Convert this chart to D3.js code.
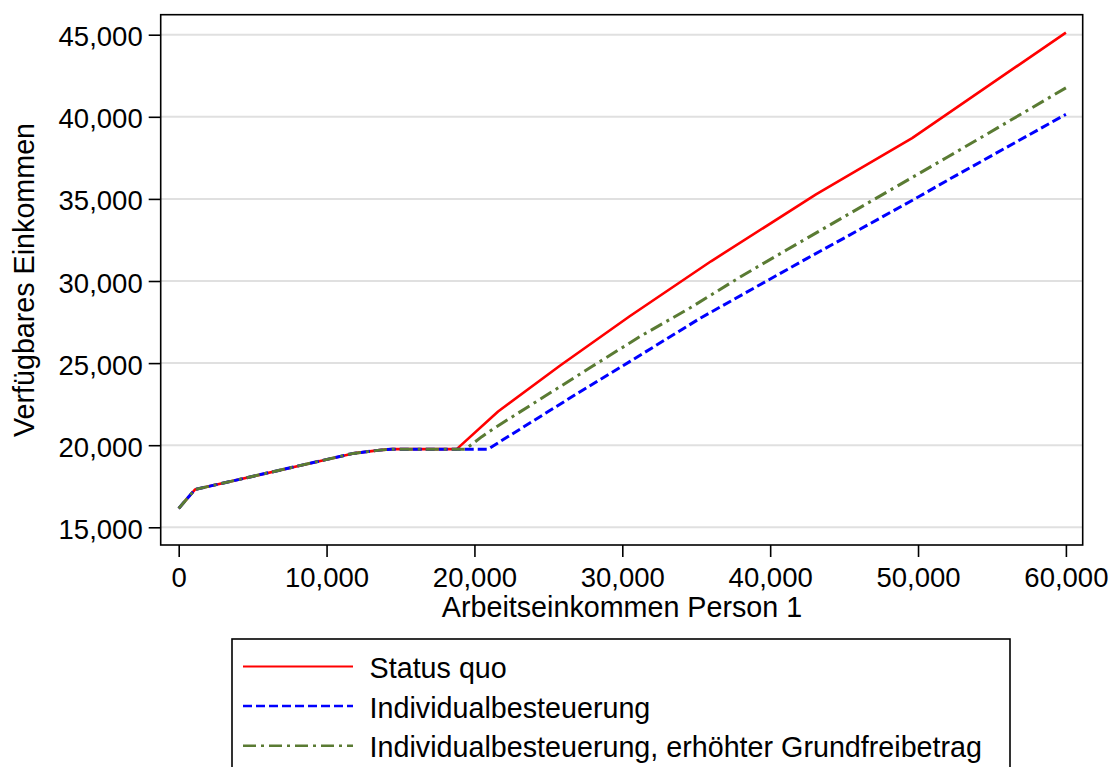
<!DOCTYPE html>
<html>
<head>
<meta charset="utf-8">
<script src="https://cdn.jsdelivr.net/npm/d3@7"></script>
<style>
  html, body { margin: 0; padding: 0; background: #fff; }
  svg { display: block; font-family: "Liberation Sans", Arial, sans-serif; }
</style>
</head>
<body>
<svg id="chart" width="1120" height="767"></svg>
<script>
// ---- Data ----
const xTicks = [0, 10000, 20000, 30000, 40000, 50000, 60000];
const yTicks = [15000, 20000, 25000, 30000, 35000, 40000, 45000];
const seriesNames = ["Status quo", "Individualbesteuerung", "Individualbesteuerung, erhöhter Grundfreibetrag"];
const xTitle = "Arbeitseinkommen Person 1";
const yTitle = "Verfügbares Einkommen";

// [Arbeitseinkommen, verfügbares Einkommen]
const statusQuo = [
  [0, 16150], [1100, 17300], [11800, 19500], [13600, 19700], [14400, 19760],
  [18800, 19760], [21600, 22050], [25800, 24850], [30500, 27850], [36000, 31200],
  [43100, 35270], [49600, 38700], [60000, 45130]
];
const individual = [
  [0, 16150], [1100, 17300], [11800, 19500], [13600, 19700], [14400, 19760],
  [20940, 19760], [21700, 20200], [26900, 23120], [30500, 25090], [35300, 27750],
  [42500, 31380], [45000, 32615], [50100, 35160], [52200, 36240], [60000, 40150]
];
const individualGfb = [
  [0, 16150], [1100, 17300], [11800, 19500], [13600, 19700], [14400, 19760],
  [19400, 19760], [20500, 20520], [21500, 21130], [28000, 24820], [31200, 26620],
  [34600, 28370], [38200, 30370], [41100, 31885], [46800, 34850], [52000, 37550],
  [60000, 41760]
];

const seriesData = [statusQuo, individual, individualGfb];
const colors = ["#ff0000", "#0000ff", "#5a7b33"];
const dashes = [null, "9,4", "13,5,3,5"];
const widths = [2.6, 3, 3];

// ---- Layout ----
const svg = d3.select("#chart");
const frame = { left: 160.7, right: 1082.7, top: 14.7, bottom: 545 };
const FS = 27.5;   // tick labels
const FT = 28.7;   // titles and legend

const x = d3.scaleLinear().domain([0, 60000]).range([178.7, 1065.9]);
const y = d3.scaleLinear().domain([15000, 45000]).range([527.3, 34.7]);

// grid
svg.append("g").selectAll("line").data(yTicks).join("line")
  .attr("x1", frame.left).attr("x2", frame.right)
  .attr("y1", d => y(d)).attr("y2", d => y(d))
  .attr("stroke", "#e0e0e0").attr("stroke-width", 2);

// lines
const line = d3.line().x(d => x(d[0])).y(d => y(d[1]));
seriesData.forEach((s, i) => {
  svg.append("path").datum(s)
    .attr("d", line)
    .attr("fill", "none")
    .attr("stroke", colors[i])
    .attr("stroke-width", widths[i])
    .attr("stroke-dasharray", dashes[i])
    .attr("stroke-linejoin", "round");
});

// frame
svg.append("rect")
  .attr("x", frame.left).attr("y", frame.top)
  .attr("width", frame.right - frame.left).attr("height", frame.bottom - frame.top)
  .attr("fill", "none").attr("stroke", "#000").attr("stroke-width", 1.6);

// axes
const fmt = d3.format(",");
const xAxis = svg.append("g").attr("transform", `translate(0,${frame.bottom})`)
  .call(d3.axisBottom(x).tickValues(xTicks).tickFormat(fmt).tickSize(12).tickPadding(14));
const yAxis = svg.append("g").attr("transform", `translate(${frame.left},0)`)
  .call(d3.axisLeft(y).tickValues(yTicks).tickFormat(fmt).tickSize(12).tickPadding(6));
[xAxis, yAxis].forEach(a => {
  a.select(".domain").remove();
  a.selectAll(".tick line").attr("stroke", "#000").attr("stroke-width", 1.6);
  a.selectAll(".tick text").attr("fill", "#000").attr("font-size", FS)
    .attr("font-family", "Liberation Sans, Arial, sans-serif");
});
xAxis.selectAll(".tick text").attr("dy", null).attr("y", 42);
yAxis.selectAll(".tick text").attr("dy", null).attr("y", 11);

// axis titles
svg.append("text").attr("x", 622).attr("y", 617)
  .attr("text-anchor", "middle").attr("font-size", FT).text(xTitle);
svg.append("text").attr("transform", "translate(34,280) rotate(-90)")
  .attr("text-anchor", "middle").attr("font-size", FT).text(yTitle);

// legend
const lg = svg.append("g");
lg.append("rect").attr("x", 232).attr("y", 639).attr("width", 778).attr("height", 160)
  .attr("fill", "#fff").attr("stroke", "#000").attr("stroke-width", 1.6);
const baselines = [678, 717.6, 757.2];
seriesNames.forEach((n, i) => {
  lg.append("line").attr("x1", 243).attr("x2", 353)
    .attr("y1", baselines[i] - 11.5).attr("y2", baselines[i] - 11.5)
    .attr("stroke", colors[i]).attr("stroke-width", widths[i] - 0.5)
    .attr("stroke-dasharray", dashes[i]);
  lg.append("text").attr("x", 369.6).attr("y", baselines[i])
    .attr("font-size", FT).text(n);
});
</script>
</body>
</html>
